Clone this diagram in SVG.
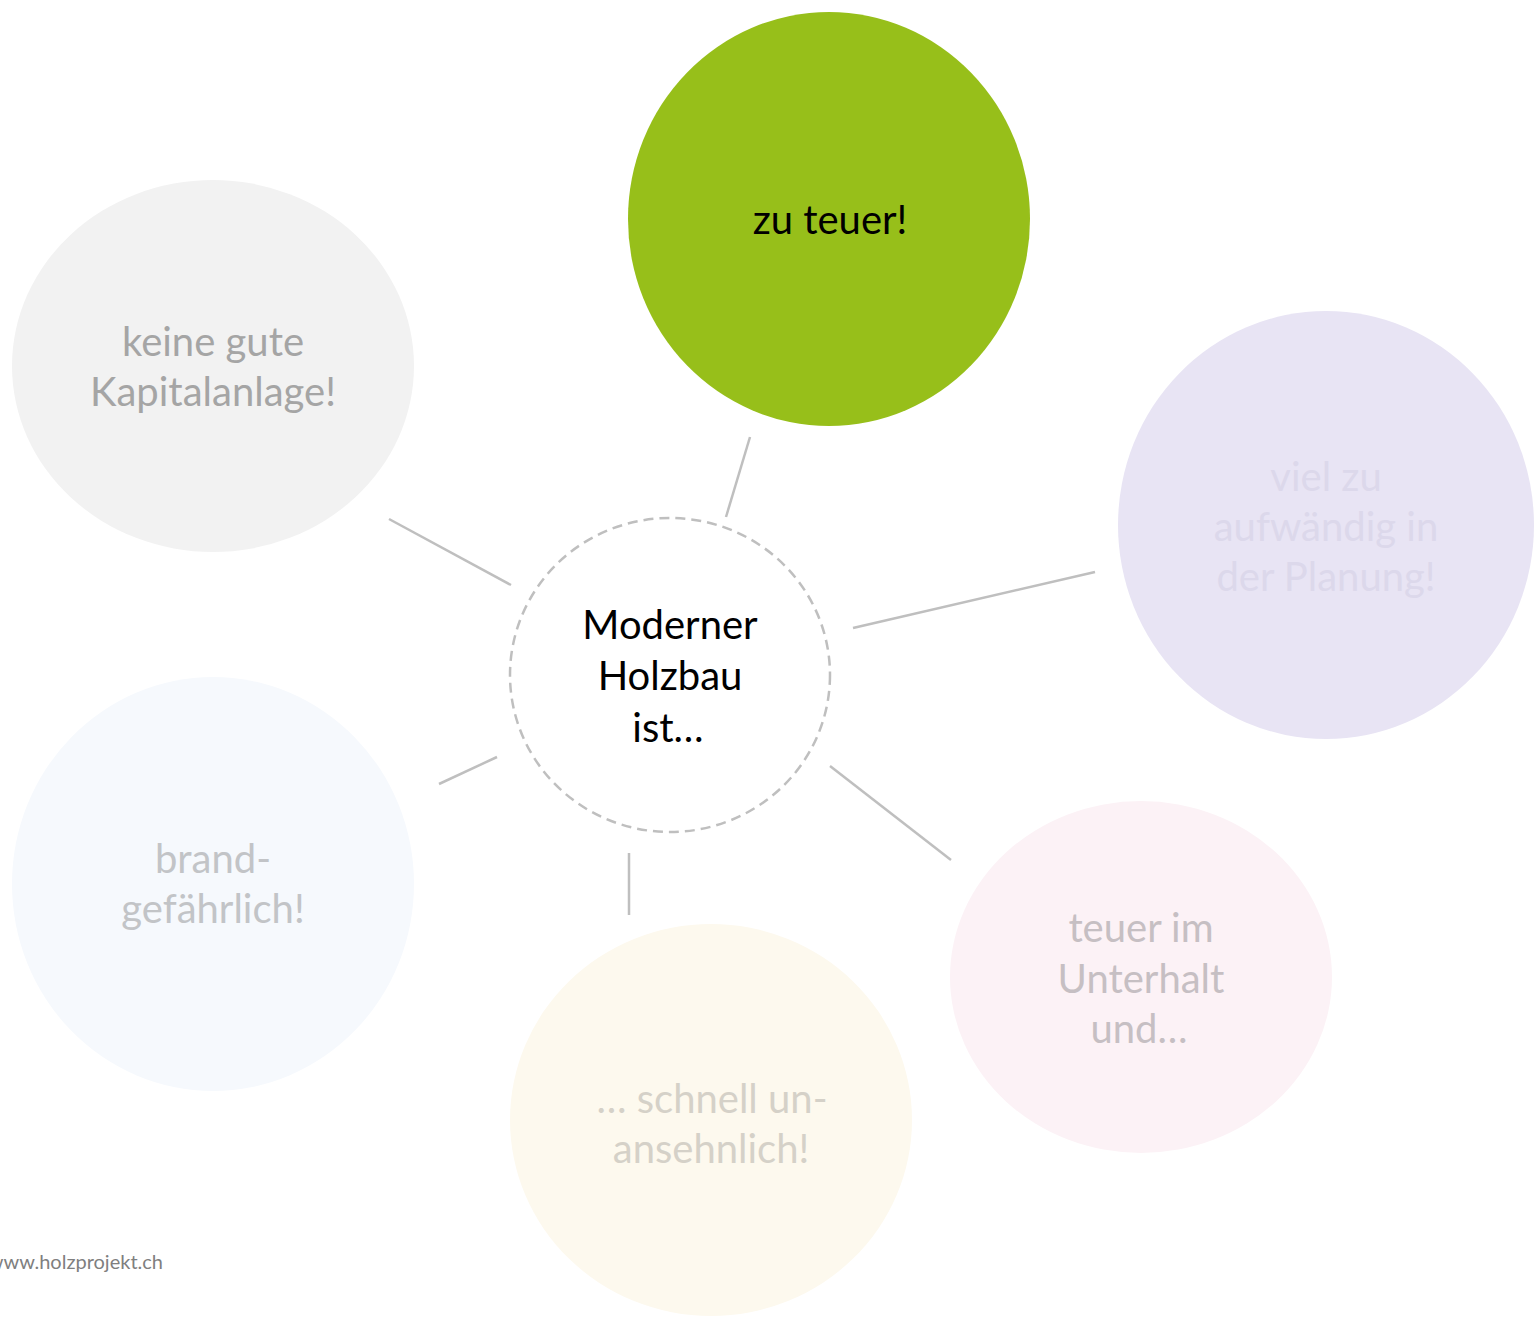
<svg xmlns="http://www.w3.org/2000/svg" width="1537" height="1319" viewBox="0 0 1537 1319">
<style>
text{font-family:Lato,"Open Sans","Liberation Sans",sans-serif;font-size:40px;text-anchor:middle}
.ln{stroke:#bfbfbf;stroke-width:2.5;fill:none}
</style>
<rect width="1537" height="1319" fill="#ffffff"/>
<g id="connectors">
<line class="ln" x1="750" y1="437" x2="726" y2="517"/>
<line class="ln" x1="389" y1="519" x2="511" y2="585"/>
<line class="ln" x1="853" y1="628" x2="1095" y2="572"/>
<line class="ln" x1="830" y1="766" x2="951" y2="860"/>
<line class="ln" x1="629" y1="853" x2="629" y2="915"/>
<line class="ln" x1="439" y1="784" x2="497" y2="757"/>
</g>
<g id="center">
<ellipse cx="670" cy="675" rx="160" ry="157" fill="#ffffff" stroke="#bfbfbf" stroke-width="2.5" stroke-dasharray="10 6"/>
<text x="670" y="639" fill="#000000">Moderner</text>
<text x="670" y="690" fill="#000000">Holzbau</text>
<text x="668" y="742" fill="#000000">ist…</text>
</g>
<g id="zu-teuer">
<ellipse cx="829" cy="219" rx="201" ry="207" fill="#97bf1a"/>
<text x="830" y="234" fill="#000000">zu teuer!</text>
</g>
<g id="kapitalanlage">
<ellipse cx="213" cy="366" rx="201" ry="186" fill="#f2f2f2"/>
<text x="213" y="356" fill="#a5a5a5">keine gute</text>
<text x="213" y="406" fill="#a5a5a5">Kapitalanlage!</text>
</g>
<g id="planung">
<ellipse cx="1326" cy="525" rx="208" ry="214" fill="#e8e4f4"/>
<text x="1326" y="491" fill="#dcd8eb">viel zu</text>
<text x="1326" y="541" fill="#dcd8eb">aufwändig in</text>
<text x="1326" y="591" fill="#dcd8eb">der Planung!</text>
</g>
<g id="unterhalt">
<ellipse cx="1141" cy="977" rx="191" ry="176" fill="#fcf2f6"/>
<text x="1141" y="942" fill="#c6bfc3">teuer im</text>
<text x="1141" y="993" fill="#c6bfc3">Unterhalt</text>
<text x="1139" y="1043" fill="#c6bfc3">und…</text>
</g>
<g id="unansehnlich">
<ellipse cx="711" cy="1120" rx="201" ry="196" fill="#fdf9ee"/>
<text x="712" y="1113" fill="#d5d1c8">…  schnell un-</text>
<text x="711" y="1163" fill="#d5d1c8">ansehnlich!</text>
</g>
<g id="brand">
<ellipse cx="213" cy="884" rx="201" ry="207" fill="#f6f9fd"/>
<text x="213" y="873" fill="#c2c4c7">brand-</text>
<text x="213" y="923" fill="#c2c4c7">gefährlich!</text>
</g>
<g id="footer">
<text x="163" y="1269" fill="#7f7f7f" style="font-size:20px;text-anchor:end">www.holzprojekt.ch</text>
</g>
</svg>
